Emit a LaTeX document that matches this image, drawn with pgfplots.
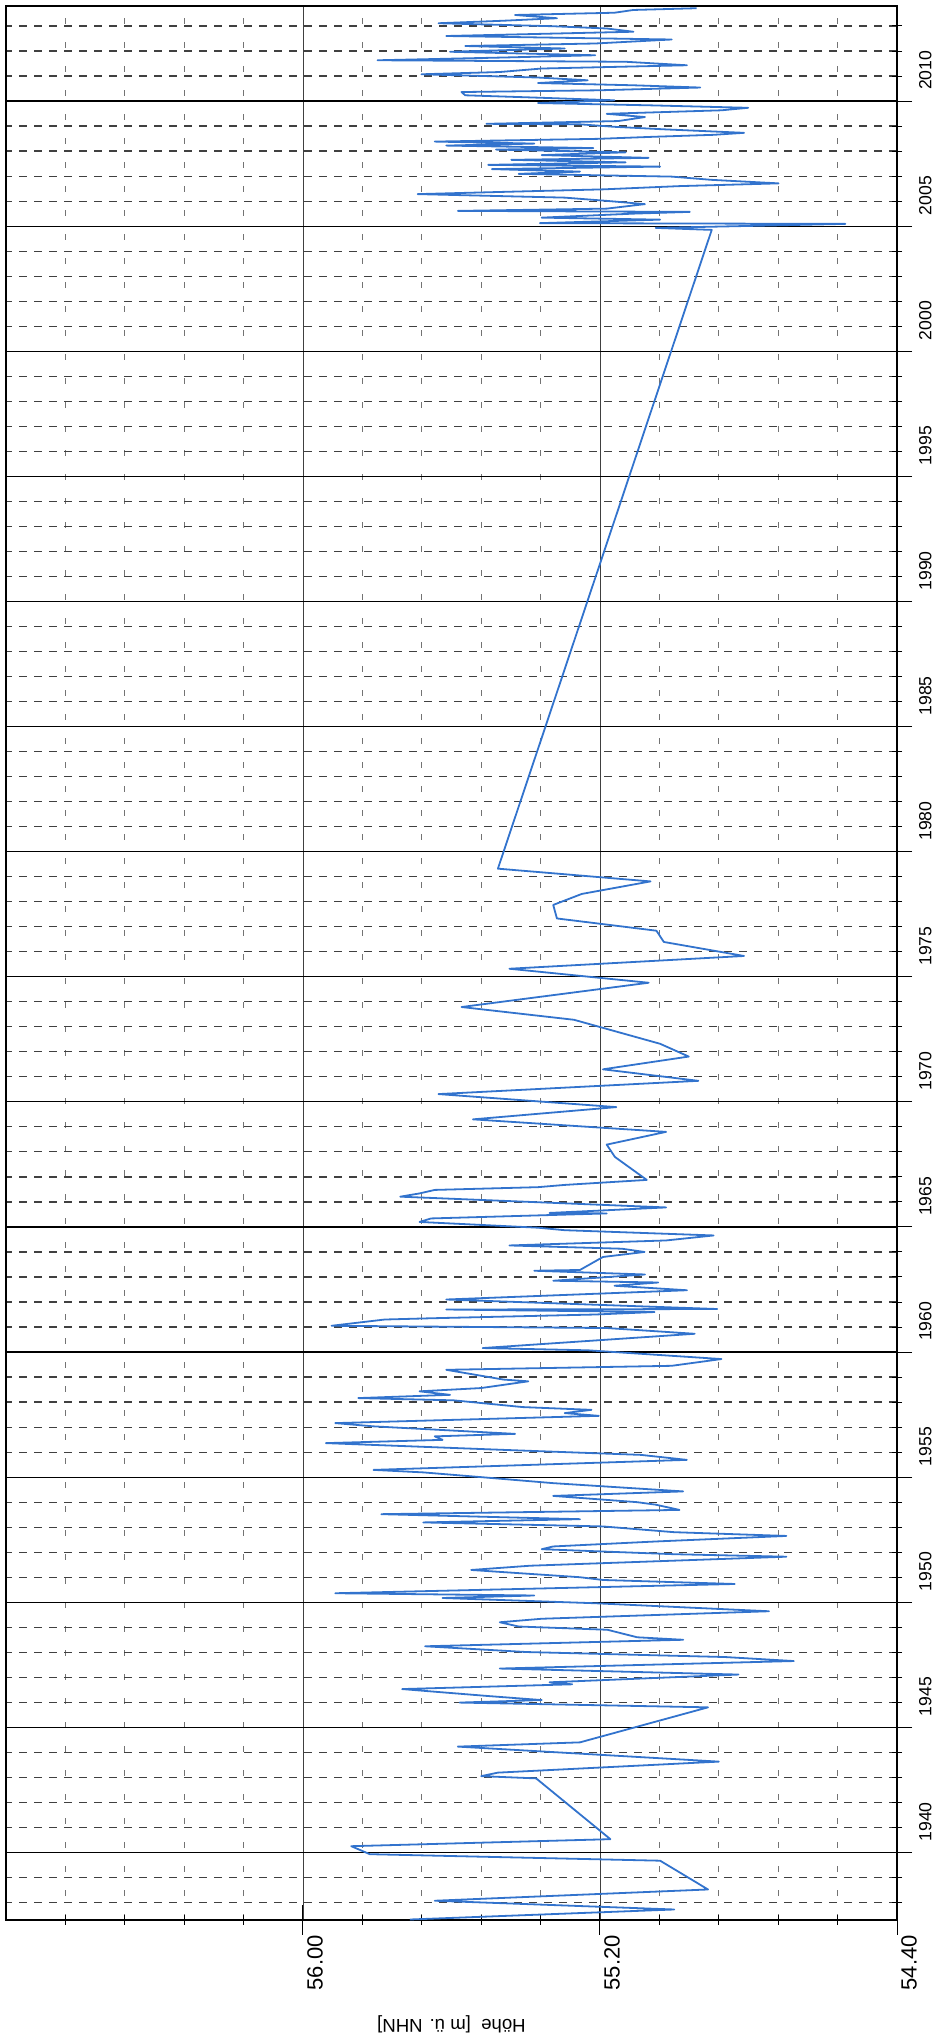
\documentclass[border=0pt]{standalone}
\usepackage{fontspec}
\setmainfont{Liberation Sans}
\usepackage{pgfplots}
\usepackage{pgfplotstable}
\pgfplotsset{compat=1.18}
\definecolor{wblue}{RGB}{50,115,205}
\pgfplotstableread{
year h
1937.32 55.712
1937.72 55.000
1938.07 55.645
1938.52 54.909
1939.67 55.038
1939.93 55.820
1940.25 55.870
1940.53 55.172
1942.96 55.372
1943.05 55.520
1943.19 55.475
1943.63 54.880
1944.23 55.583
1944.40 55.254
1945.80 54.909
1945.99 55.578
1946.09 55.357
1946.25 55.500
1946.53 55.733
1946.72 55.275
1946.80 55.336
1947.11 54.827
1947.35 55.470
1947.65 54.678
1947.81 54.863
1948.01 55.398
1948.24 55.671
1948.50 54.976
1948.60 55.100
1948.90 55.180
1949.03 55.419
1949.20 55.470
1949.34 55.357
1949.64 54.745
1949.96 55.213
1950.17 55.624
1950.27 55.377
1950.36 55.913
1950.73 54.837
1950.89 55.192
1951.00 55.254
1951.29 55.547
1951.46 55.388
1951.82 54.698
1951.92 55.000
1952.12 55.357
1952.23 55.326
1952.43 55.048
1952.65 54.698
1952.80 55.000
1953.03 55.192
1953.19 55.676
1953.32 55.254
1953.52 55.789
1953.69 54.986
1953.90 55.050
1954.00 55.100
1954.25 55.326
1954.43 54.976
1954.76 55.326
1955.00 55.520
1955.19 55.676
1955.29 55.810
1955.69 54.966
1955.89 55.090
1956.09 55.460
1956.36 55.938
1956.49 55.624
1956.63 55.645
1956.73 55.429
1957.03 55.810
1957.16 55.913
1957.45 55.203
1957.56 55.295
1957.69 55.223
1957.80 55.408
1958.07 55.594
1958.16 55.851
1958.29 55.604
1958.43 55.686
1958.56 55.521
1958.83 55.393
1958.90 55.460
1959.29 55.614
1959.45 55.007
1959.72 54.873
1960.07 55.233
1960.16 55.516
1960.73 54.945
1960.96 55.182
1961.05 55.923
1961.30 55.780
1961.35 55.655
1961.50 55.213
1961.60 55.053
1961.70 55.614
1961.72 54.884
1962.10 55.614
1962.47 54.966
1962.65 55.161
1962.78 55.043
1962.85 55.326
1963.10 55.079
1963.25 55.377
1963.28 55.254
1963.80 55.192
1964.00 55.080
1964.13 55.141
1964.26 55.444
1964.46 55.022
1964.66 54.894
1964.87 55.295
1964.97 55.367
1965.20 55.686
1965.34 55.655
1965.54 55.182
1965.56 55.336
1965.78 55.022
1966.21 55.738
1966.34 55.686
1966.48 55.645
1966.59 55.367
1966.68 55.295
1966.88 55.074
1967.80 55.160
1968.29 55.182
1968.80 55.022
1969.30 55.542
1969.79 55.156
1970.31 55.635
1970.84 54.935
1971.30 55.192
1971.81 54.961
1972.32 55.038
1973.28 55.270
1973.79 55.573
1974.76 55.069
1975.32 55.444
1975.83 54.812
1976.39 55.028
1976.84 55.048
1977.33 55.316
1977.87 55.326
1978.31 55.249
1978.81 55.064
1979.32 55.475
2004.85 54.899
2004.93 55.050
2005.09 54.539
2005.12 55.362
2005.26 55.038
2005.34 55.357
2005.50 55.110
2005.57 54.958
2005.61 55.583
2005.70 55.182
2005.88 55.079
2006.01 55.182
2006.14 55.295
2006.28 55.691
2006.37 55.460
2006.47 55.192
2006.60 54.986
2006.71 54.719
2006.85 54.899
2006.98 55.007
2007.09 55.419
2007.18 55.254
2007.28 55.491
2007.38 55.038
2007.45 55.501
2007.55 55.131
2007.65 55.439
2007.73 55.069
2007.84 55.357
2007.95 55.131
2008.06 55.480
2008.12 55.218
2008.22 55.614
2008.30 55.377
2008.38 55.645
2008.49 55.203
2008.57 55.059
2008.65 54.894
2008.73 54.812
2008.87 55.028
2008.97 55.161
2009.07 55.254
2009.09 55.506
2009.20 55.151
2009.36 55.079
2009.49 55.182
2009.63 54.873
2009.73 54.801
2009.83 55.069
2009.92 55.367
2010.03 55.161
2010.13 55.357
2010.23 55.563
2010.36 55.573
2010.43 55.203
2010.54 54.930
2010.63 55.110
2010.72 55.367
2010.83 55.233
2010.94 55.367
2011.07 55.681
2011.16 55.470
2011.30 55.357
2011.43 54.966
2011.57 55.131
2011.63 55.799
2011.74 55.460
2011.83 55.213
2011.97 55.604
2012.10 55.295
2012.20 55.563
2012.30 55.213
2012.46 55.007
2012.60 55.614
2012.70 55.316
2012.77 55.110
2012.90 55.182
2012.99 55.326
2013.11 55.635
2013.21 55.460
2013.31 55.316
2013.44 55.429
2013.53 55.161
2013.64 55.110
2013.71 54.940
}\datatable
\begin{document}
\begin{tikzpicture}
\begin{axis}[
  at={(0,0)}, anchor=south west,
  scale only axis, width=445.5pt, height=957pt,
  xmin=54.4, xmax=56.8, x dir=reverse,
  ymin=1937.3, ymax=2013.8,
  xtick={54.4,55.2,56.0},
  xticklabels={54.40,55.20,56.00},
  minor xtick={54.56,54.72,54.88,55.04,55.36,55.52,55.68,55.84,56.16,56.32,56.48,56.64},
  ytick={1940,1945,1950,1955,1960,1965,1970,1975,1980,1985,1990,1995,2000,2005,2010},
  yticklabels={1940,1945,1950,1955,1960,1965,1970,1975,1980,1985,1990,1995,2000,2005,2010},
  minor ytick={1938,1939,1941,1942,1943,1944,1946,1947,1948,1949,1951,1952,1953,1954,1956,1957,1958,1959,1961,1962,1963,1964,1966,1967,1968,1969,1971,1972,1973,1974,1976,1977,1978,1979,1981,1982,1983,1984,1986,1987,1988,1989,1991,1992,1993,1994,1996,1997,1998,1999,2001,2002,2003,2004,2006,2007,2008,2009,2011,2012,2013},
  grid=both,
  major x grid style={black!75, line width=0.4pt},
  minor x grid style={black!55, line width=0.4pt, dash pattern=on 3pt off 9pt},
  major y grid style={black, line width=0.6pt},
  minor y grid style={black!75, line width=0.6pt, dash pattern=on 4pt off 3.5pt},
  tick align=center,
  major tick length=15pt, minor tick length=5pt,
  tick style={black, line width=0.5pt},
  xtick pos=lower, ytick pos=right,
  xticklabel pos=lower, yticklabel pos=right,
  axis line style={black, line width=0.6pt},
  yticklabel style={rotate=90, anchor=north west, font=\fontsize{8.8}{9}\selectfont, xshift=2pt},
  xticklabel style={rotate=90, anchor=east, inner sep=0pt, font=\fontsize{11}{11}\selectfont, yshift=-6pt},
  xlabel={Höhe\ \ [m ü. NHN]},
  xlabel style={at={(axis description cs:0.5,0)}, yshift=-52pt, rotate=180, anchor=center, font=\fontsize{9.3}{10}\selectfont},
]
\addplot[wblue, line width=0.9pt, line join=round] table[x=h, y=year] {\datatable};
\end{axis}
\pgfresetboundingbox
\useasboundingbox (-3pt,-59pt) rectangle (467.5pt,960pt);
\end{tikzpicture}
\end{document}
